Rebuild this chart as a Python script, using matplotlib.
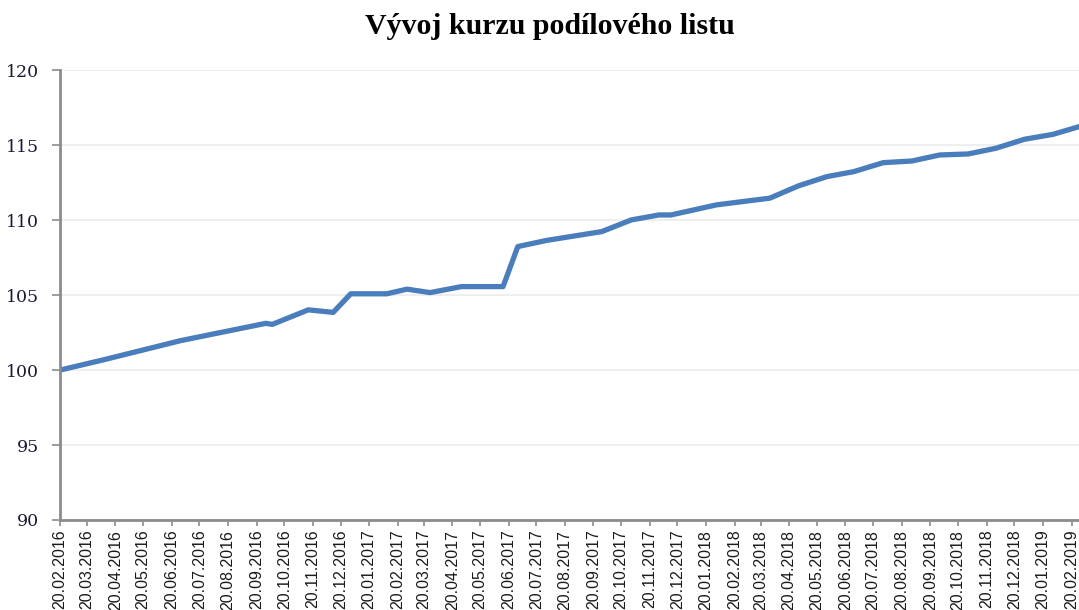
import pandas as pd
import matplotlib.pyplot as plt
import matplotlib.dates as mdates

# hodnoty kurzu
dates = ["2016-02-20", "2016-04-08", "2016-06-30", "2016-09-30", "2016-10-07",
         "2016-11-15", "2016-12-12", "2016-12-31", "2017-02-08", "2017-03-02",
         "2017-03-27", "2017-04-30", "2017-06-14", "2017-06-30", "2017-07-31",
         "2017-09-29", "2017-10-31", "2017-11-30", "2017-12-13", "2018-01-31",
         "2018-03-30", "2018-04-30", "2018-05-31", "2018-06-29", "2018-07-31",
         "2018-08-31", "2018-09-30", "2018-10-31", "2018-11-30", "2018-12-31",
         "2019-01-31", "2019-02-28"]
kurz = [100.00, 100.70, 101.97, 103.12, 103.05,
        104.02, 103.85, 105.09, 105.09, 105.40,
        105.17, 105.57, 105.57, 108.24, 108.65,
        109.24, 110.02, 110.35, 110.35, 111.02,
        111.47, 112.29, 112.91, 113.24, 113.84,
        113.95, 114.35, 114.42, 114.80, 115.40,
        115.73, 116.24]

# popisky osy x - vždy 20. den v měsíci
tick_dates = pd.date_range("2016-02-01", "2019-02-01", freq="MS") + pd.Timedelta(days=19)
y_ticks = [90, 95, 100, 105, 110, 115, 120]

x = pd.to_datetime(dates)

fig = plt.figure(figsize=(10.79, 6.10), dpi=100)
ax = fig.add_axes([60 / 1079, 1 - 520 / 610, 1 - 60 / 1079, (520 - 70.3) / 610])

ax.plot(x, kurz, color="#4A7DBB", linewidth=3.8, solid_joinstyle="round")

ax.set_ylim(90, 120)
ax.set_yticks(y_ticks)
ax.set_xlim(pd.Timestamp("2016-02-20"), pd.Timestamp("2019-02-28"))
ax.set_xticks(tick_dates)
ax.xaxis.set_major_formatter(mdates.DateFormatter("%d.%m.%Y"))

ax.grid(axis="y", color="#EBEBEB", linewidth=1.2)
ax.set_axisbelow(True)

for side in ["top", "right"]:
    ax.spines[side].set_visible(False)
for side in ["left", "bottom"]:
    ax.spines[side].set_color("#8C8C8C")
    ax.spines[side].set_linewidth(2)

ax.tick_params(axis="y", length=6, width=1.2, color="#8C8C8C", pad=9,
               labelsize=12.5, labelcolor="#1A1A33")
ax.tick_params(axis="x", length=4, width=1.2, color="#8C8C8C", pad=3,
               labelsize=11.5, labelrotation=90, labelcolor="#1A1A1A")
for lab in ax.get_yticklabels():
    lab.set_family("DejaVu Serif")
for lab in ax.get_xticklabels():
    lab.set_family("Liberation Sans")

fig.text(550 / 1079, 1 - 26 / 610, "Vývoj kurzu podílového listu",
         ha="center", va="center", fontsize=21.5, fontweight="bold",
         family="Liberation Serif")

fig.savefig("out.png", dpi=100)
